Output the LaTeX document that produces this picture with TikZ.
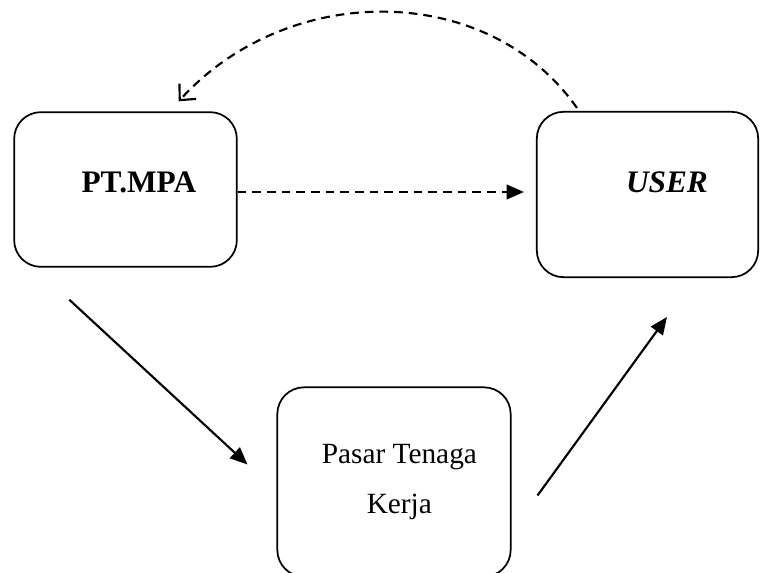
\documentclass[tikz,border=0pt]{standalone}
\usepackage{fontspec}
\setmainfont{Liberation Serif}
\usetikzlibrary{arrows.meta,calc}

\begin{document}
\begin{tikzpicture}[x=0.75pt,y=-0.75pt,
    box/.style={draw,rounded corners=20pt,line width=1.3pt},
    flow/.style={line width=1.6pt,-{Triangle[length=13pt,width=11pt]}},
    dashflow/.style={line width=1.6pt,dash pattern=on 6.5pt off 4.5pt}]
  \useasboundingbox (0,0) rectangle (760,573);
  % three boxes
  \node[box,minimum width=167pt,minimum height=116pt,
    label={[xshift=10pt,yshift=5.6pt,font=\fontsize{23.5}{28}\selectfont\bfseries]center:PT.MPA}] (pt) at (125.5,189.5) {};
  \node[box,minimum width=166pt,minimum height=124pt,
    label={[xshift=14.6pt,yshift=9.4pt,font=\fontsize{23.5}{28}\selectfont\bfseries\itshape]center:USER}] (user) at (647.5,194.5) {};
  \node[box,minimum width=175pt,minimum height=142pt,
    label={[xshift=4pt,yshift=0pt,align=center,font=\fontsize{22}{38}\selectfont]center:Pasar Tenaga\\Kerja}] (pasar) at (394,482) {};
  % free ends
  \coordinate (c1) at ($(pt.south west)+(56,32)$);
  \coordinate (c2) at ($(pasar.north west)+(-29,78)$);
  \coordinate (c3) at ($(pasar.north east)+(26,109)$);
  \coordinate (c4) at ($(user.south west)+(131,39)$);
  \coordinate (c5) at ($(user.north west)+(41,-3)$);
  \coordinate (c6) at ($(pt.north east)+(-59,-10)$);
  % arrows
  \draw[dashflow,-{Triangle[length=13pt,width=11pt]}] ($(pt.east)+(0,2.5)$) -- ($(user.west)+(-12,-2.5)$);
  \draw[flow] (c1) -- (c2);
  \draw[flow] (c3) -- (c4);
  \draw[dashflow,-{Straight Barb[length=9pt,width=17pt]}] (c5) .. controls (488,-19) and (288,-19) .. (c6);
\end{tikzpicture}
\end{document}
